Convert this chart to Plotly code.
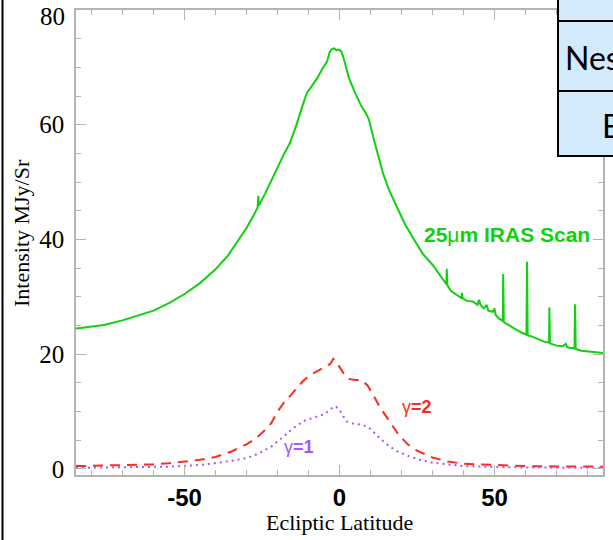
import plotly.graph_objects as go

# ---------------- data ----------------
scan_lat = [-85, -80, -76, -70, -65, -60, -55, -50, -45, -40, -36, -33, -30, -28, -26.4,
            -26.2, -26.0, -24, -22, -20, -18, -16, -14, -12, -10.5, -9, -7, -5.5, -4,
            -3.2, -2.5, -1.7, -1.0, -0.3, 0.6, 1.4, 2.2, 3, 5, 7, 8.5, 9.5, 11, 12, 14,
            16, 18.5, 21, 24, 27, 30, 32.5, 34.5, 34.6, 34.8, 36, 38, 39.3, 39.5, 39.7,
            41, 43, 44.5, 45, 45.5, 46.5, 47.5, 48, 49.5, 50, 50.4, 51.5, 52.7, 52.8,
            53.0, 55, 57, 59, 60.3, 60.5, 60.7, 62, 64, 66, 67.6, 67.7, 67.9, 70, 72,
            73, 73.5, 75.8, 76, 76.2, 78, 80, 82, 85]
scan_int = [24.5, 24.9, 25.1, 25.9, 26.7, 27.6, 28.9, 30.5, 32.4, 34.8, 37.2, 39.5, 42.0,
            43.9, 45.6, 47.6, 45.9, 48.0, 50.3, 52.6, 54.8, 56.8, 59.8, 63.2, 65.6, 66.7,
            68.3, 69.8, 71.0, 72.6, 73.2, 73.3, 73.0, 73.1, 72.8, 71.5, 69.6, 68.2, 65.6,
            63.3, 62.0, 60.9, 57.6, 55.7, 51.6, 48.6, 45.6, 42.8, 40.0, 37.4, 35.6, 33.6,
            32.2, 34.9, 32.0, 31.0, 30.3, 29.8, 30.7, 29.8, 29.3, 29.2, 28.6, 29.5, 28.6,
            28.0, 28.6, 27.6, 27.4, 28.0, 26.8, 26.2, 25.8, 34.0, 25.6, 24.9, 24.3, 23.7,
            23.4, 36.1, 23.3, 23.1, 22.6, 22.2, 22.0, 28.2, 21.9, 21.5, 21.4, 21.8, 21.2,
            21.0, 28.7, 20.9, 20.6, 20.5, 20.3, 20.2]

g2_lat = [-85, -75, -65, -60, -55, -50, -45, -40, -35, -30, -27, -24, -22, -20, -18, -15,
          -12, -10, -7, -5, -3, -2, -1, 0, 1.5, 3, 5, 7, 9, 11, 13, 16, 19, 22, 25, 30,
          35, 40, 50, 60, 70, 85]
g2_int = [0.5, 0.6, 0.7, 0.8, 1.0, 1.3, 1.6, 2.1, 3.0, 4.3, 5.3, 6.8, 8.0, 10.0, 11.5,
          13.3, 15.2, 16.2, 17.1, 17.6, 18.3, 19.2, 18.6, 17.8, 16.5, 15.7, 15.5, 15.5,
          14.6, 12.8, 10.8, 8.4, 6.0, 4.3, 3.2, 2.0, 1.3, 0.9, 0.7, 0.5, 0.45, 0.4]

g1_lat = [-85, -70, -55, -45, -40, -35, -30, -26, -22, -19, -17, -14, -11, -7, -5, -3,
          -2, -1, 0, 1, 2.3, 4.5, 7.5, 10, 12, 13.5, 16, 18.5, 22, 26, 30, 35, 40, 50,
          60, 85]
g1_int = [0.2, 0.25, 0.4, 0.7, 1.0, 1.4, 1.9, 2.7, 3.9, 5.2, 6.2, 7.5, 8.5, 9.2, 9.5,
          10.3, 10.9, 10.8, 10.3, 9.4, 8.3, 7.9, 7.7, 7.0, 5.9, 5.1, 4.0, 3.1, 2.3, 1.6,
          1.1, 0.8, 0.5, 0.35, 0.25, 0.2]

x_ticks = [-50, 0, 50]
y_ticks = [0, 20, 40, 60, 80]

# ---------------- figure ----------------
W, H = 613, 540
L, R, T, B = 76, 10, 10, 65
PW, PH = W - L - R, H - T - B


def px(xp):
    return (xp - L) / PW


def py(yp):
    return (H - B - yp) / PH


GREEN = "#10d010"
RED = "#ff2a1a"
PURPLE = "#a855ff"
AXIS = "#b4b4b4"
YFONT = dict(family="Liberation Serif, Times New Roman", size=25, color="black")

fig = go.Figure()
fig.add_trace(go.Scatter(x=scan_lat, y=scan_int, mode="lines",
                         line=dict(color=GREEN, width=2), showlegend=False))
fig.add_trace(go.Scatter(x=g2_lat, y=g2_int, mode="lines",
                         line=dict(color=RED, width=2, dash="10px,7px"), showlegend=False))
fig.add_trace(go.Scatter(x=g1_lat, y=g1_int, mode="lines",
                         line=dict(color=PURPLE, width=2, dash="2px,4px"), showlegend=False))

# the top label (80) sits a little below its tick in the reference; it is drawn separately
y_text = [str(v) if v != max(y_ticks) else "" for v in y_ticks]

fig.update_layout(
    width=W, height=H,
    margin=dict(l=L, r=R, t=T, b=B, autoexpand=False),
    paper_bgcolor="white", plot_bgcolor="white",
    xaxis=dict(range=[-85, 85], tickvals=x_ticks, ticktext=[str(v) for v in x_ticks],
               automargin=False,
               showgrid=False, zeroline=False, showline=True, linecolor=AXIS, linewidth=1.5,
               mirror="ticks", ticks="inside", ticklen=10, tickwidth=1.2, tickcolor=AXIS,
               minor=dict(dtick=10, tick0=0, ticks="inside", ticklen=5, tickcolor=AXIS, tickwidth=1.2),
               tickfont=dict(family="Liberation Sans, Arial", size=24, color="black", weight="bold"),
               ticklabelstandoff=0),
    yaxis=dict(range=[-1.05, 80], tickvals=y_ticks, ticktext=y_text,
               automargin=False,
               showgrid=False, zeroline=False, showline=True, linecolor=AXIS, linewidth=1.5,
               mirror="ticks", ticks="inside", ticklen=10, tickwidth=1.2, tickcolor=AXIS,
               minor=dict(dtick=5, tick0=0, ticks="inside", ticklen=5, tickcolor=AXIS, tickwidth=1.2),
               tickfont=YFONT, ticklabelstandoff=5),
)

annotations = [
    dict(text=str(max(y_ticks)), x=px(67), y=py(17), xref="paper", yref="paper",
         showarrow=False, xanchor="right", yanchor="middle", font=YFONT),
    dict(text="Ecliptic Latitude", x=px(339), y=py(522), xref="paper", yref="paper",
         showarrow=False, xanchor="center", yanchor="middle",
         font=dict(family="Liberation Serif, Times New Roman", size=22, color="black")),
    dict(text="Intensity MJy/Sr", x=px(21), y=py(233), xref="paper", yref="paper",
         showarrow=False, xanchor="center", yanchor="middle", textangle=-90,
         font=dict(family="Liberation Serif, Times New Roman", size=22, color="black")),
    dict(text="<b>25</b>μ<b>m IRAS Scan</b>", x=px(592), y=py(234), xref="paper", yref="paper",
         showarrow=False, xanchor="right", yanchor="middle",
         font=dict(family="Liberation Sans, Arial", size=21, color=GREEN)),
    dict(text="γ<b>=2</b>", x=px(400), y=py(407), xref="paper", yref="paper",
         showarrow=False, xanchor="left", yanchor="middle",
         font=dict(family="Liberation Sans, Arial", size=18, color=RED)),
    dict(text="γ<b>=1</b>", x=px(282), y=py(447), xref="paper", yref="paper",
         showarrow=False, xanchor="left", yanchor="middle",
         font=dict(family="Liberation Sans, Arial", size=18, color=PURPLE)),
    dict(text="Nes", x=px(563), y=py(57), xref="paper", yref="paper",
         showarrow=False, xanchor="left", yanchor="middle",
         font=dict(family="Lato, Noto Sans", size=32, color="black")),
    dict(text="E", x=px(600), y=py(125), xref="paper", yref="paper",
         showarrow=False, xanchor="left", yanchor="middle",
         font=dict(family="Lato, Noto Sans", size=32, color="black")),
]
fig.update_layout(annotations=annotations)

shapes = [
    # cut-off table on the right
    dict(type="rect", xref="paper", yref="paper", x0=px(558), x1=px(625), y0=py(156), y1=py(-10),
         fillcolor="#d3e9fc", line=dict(color="black", width=2), layer="above"),
    dict(type="line", xref="paper", yref="paper", x0=px(558), x1=px(625), y0=py(21), y1=py(21),
         line=dict(color="black", width=2), layer="above"),
    dict(type="line", xref="paper", yref="paper", x0=px(558), x1=px(625), y0=py(91), y1=py(91),
         line=dict(color="black", width=2), layer="above"),
    # left frame line of the slide
    dict(type="line", xref="paper", yref="paper", x0=px(2.5), x1=px(2.5), y0=py(-5), y1=py(545),
         line=dict(color="black", width=2), layer="above"),
]
fig.update_layout(shapes=shapes)

fig.write_html("out.html")
